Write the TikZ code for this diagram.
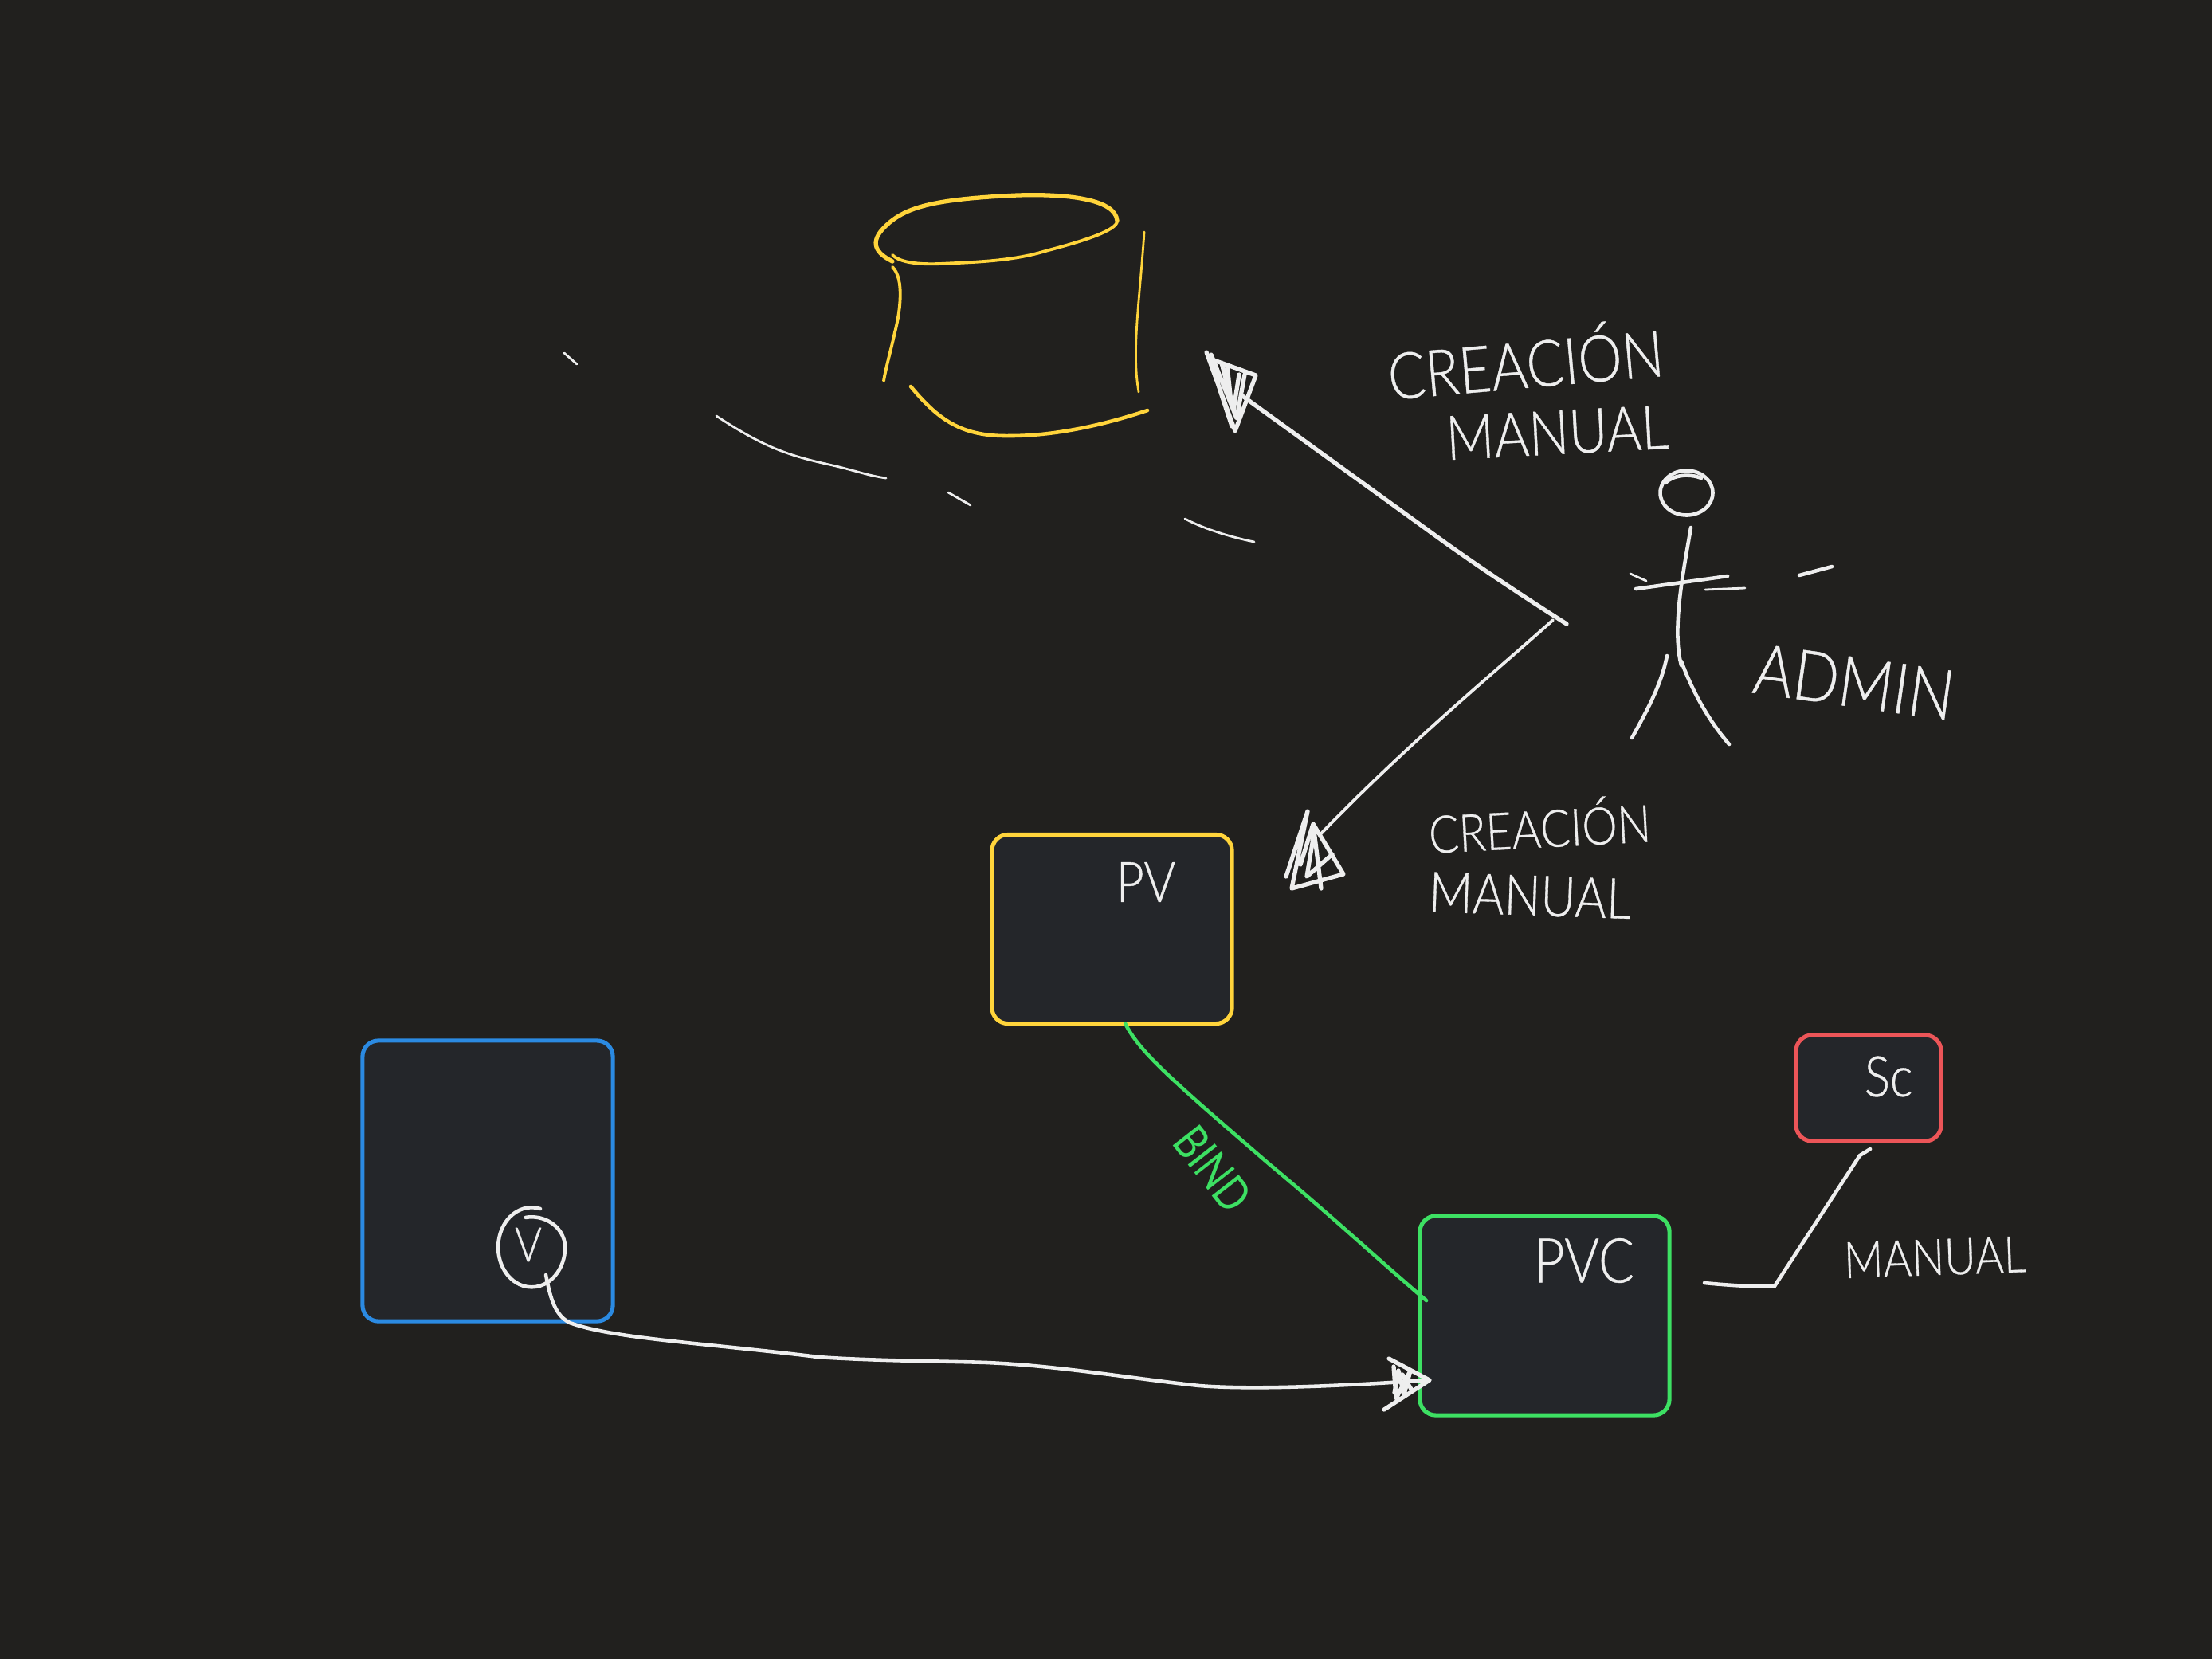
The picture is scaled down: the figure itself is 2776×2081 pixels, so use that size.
\documentclass[tikz,border=0pt]{standalone}
\usepackage{fontspec}
\usepackage{tikz}
\usetikzlibrary{positioning}
\newfontfamily\handfont[FakeStretch=0.86,FakeBold=0.5]{Lato Light}
\newfontfamily\bindfont[FakeStretch=0.8]{Lato}
\definecolor{boardbg}{HTML}{21201E}
\definecolor{boxbg}{HTML}{24262A}
\definecolor{ink}{HTML}{EEEEEE}
\definecolor{pvyellow}{HTML}{FFD43B}
\definecolor{pvcgreen}{HTML}{3DE063}
\definecolor{scred}{HTML}{EC5558}
\definecolor{podblue}{HTML}{2B8AE2}

\begin{document}
\begin{tikzpicture}[x=0.01cm,y=-0.01cm,line cap=round,line join=round,
                    box/.style={draw,fill=boxbg,rounded corners=0.2cm,line width=1.45pt,inner sep=0pt,outer sep=0pt},
                    hand/.style={text=ink,inner sep=0pt,font=\handfont\fontsize{#1}{#1}\selectfont},
                    sketch/.style={draw=ink,line width=1.3pt},
                    fine/.style={draw=ink,line width=0.8pt},
                    tipmark/.style={draw=ink,line width=1.5pt},
                    yellowpen/.style={draw=pvyellow,line width=1.1pt}]
  \useasboundingbox (0,0) rectangle (2776,2081);
  \fill[boardbg] (-8,-8) rectangle (2784,2089);

  \node[box,draw=podblue,minimum width=3.14cm,minimum height=3.52cm]  (pod) at (612,1482) {};
  \node[box,draw=pvyellow,minimum width=3.01cm,minimum height=2.37cm] (pv)  at (1395.5,1166) {};
  \node[box,draw=pvcgreen,minimum width=3.13cm,minimum height=2.50cm] (pvc) at (1938.5,1651) {};
  \node[box,draw=scred,minimum width=1.82cm,minimum height=1.33cm]    (sc)  at (2345,1365.5) {};

  \node[hand=17] (volname)  at (663,1562) {V};
  \node[hand=20] (pvname)   at (1438,1107) {PV};
  \node[hand=22] (pvcname)  at (1988,1582) {PVC};
  \node[hand=20] (scname)   at (2370,1351) {Sc};
  \node[hand=23,rotate=5]    (create1) at (1914,450) {CREACIÓN};
  \node[hand=22,rotate=3]    (manual1) at (1954,543) {MANUAL};
  \node[hand=18.5,rotate=3]  (create2) at (1932,1034) {CREACIÓN};
  \node[hand=20,rotate=-2]   (manual2) at (1920,1124) {MANUAL};
  \node[hand=25,rotate=-8]   (admin)   at (2327,856) {ADMIN};
  \node[hand=18,rotate=2]    (manual3) at (2428,1578) {MANUAL};
  \node[font=\bindfont\fontsize{17}{17}\selectfont,text=pvcgreen,inner sep=0pt,rotate=-52] (bind) at (1522,1467) {BIND};

  \coordinate (volout)  at (685,1600);
  \coordinate (pvcin)   at (1794,1732);
  \coordinate (bindend) at (1790,1632);
  \coordinate (fork)    at (1966,783);
  \coordinate (forkb)   at (1949,778);
  \coordinate (cyltip)  at (1558,496);
  \coordinate (pvtip)   at (1658,1046);
  \coordinate (knee)    at (2227,1614);
  \coordinate (manualstart) at (2139,1610);
  \coordinate (scend)   at (2347,1442);

  % cylinder
  \draw[yellowpen,line width=1.5pt] (1120,328) .. controls (1100,318) and (1090,305) .. (1110,285) .. controls (1135,260) and (1170,250) .. (1277,245) .. controls (1340,243) and (1400,250) .. (1402,277);
  \draw[yellowpen] (1402,277) .. controls (1403,290) and (1350,305) .. (1312,315) .. controls (1270,328) and (1220,329) .. (1180,331) .. controls (1155,332) and (1130,330) .. (1120,320);
  \draw[yellowpen] (1120,335) .. controls (1135,350) and (1130,390) .. (1123,417) .. controls (1118,440) and (1112,460) .. (1109,478);
  \draw[yellowpen,line width=0.8pt] (1436,291) .. controls (1430,380) and (1420,440) .. (1429,492);
  \draw[yellowpen,line width=1.3pt] (1143,485) .. controls (1180,530) and (1210,548) .. (1268,547) .. controls (1320,547) and (1380,535) .. (1440,515);

  % stray strokes
  \draw[fine] (708,443) -- (724,457);
  \draw[fine] (899,522) .. controls (960,562) and (990,572) .. (1045,584) .. controls (1075,591) and (1090,597) .. (1112,600);
  \draw[fine] (1190,618) -- (1218,634);
  \draw[fine] (1487,651) .. controls (1510,663) and (1540,673) .. (1574,680);

  % admin
  \draw[sketch] (2116.5,618.5) ellipse [x radius=33,y radius=28];
  \draw[sketch] (2090,606) .. controls (2100,596) and (2120,594) .. (2135,600);
  \draw[sketch] (2122,662) .. controls (2112,720) and (2098,790) .. (2110,835);
  \draw[sketch] (2110,830) .. controls (2125,870) and (2145,905) .. (2170,934);
  \draw[sketch] (2092,823) .. controls (2085,860) and (2065,895) .. (2048,926);
  \draw[sketch] (2053,739) -- (2168,723);
  \draw[fine] (2046,720) -- (2066,729);
  \draw[fine] (2140,740) -- (2190,738);
  \draw[sketch] (2258,722) -- (2299,711);

  % connectors
  \draw[sketch,line width=1.5pt] (fork) .. controls (1930,760) and (1880,728) .. (1815,682) -- (cyltip);
  \draw[sketch,line width=1.1pt] (forkb) .. controls (1880,840) and (1770,930) .. (pvtip);
  \draw[sketch] (volout) .. controls (690,1625) and (695,1650) .. (715,1660) .. controls (770,1680) and (880,1685) .. (1027,1703) .. controls (1100,1708) and (1180,1708) .. (1239,1710) .. controls (1330,1714) and (1420,1730) .. (1505,1739) .. controls (1580,1745) and (1700,1738) .. (pvcin);
  \draw[sketch,draw=pvcgreen] (pv.-82) .. controls (1430,1320) and (1470,1355) .. (1593,1461) .. controls (1670,1525) and (1740,1590) .. (bindend);
  \draw[sketch] (manualstart) .. controls (2170,1613) and (2200,1615) .. (knee);
  \draw[sketch] (knee) -- (2334,1450) -- (scend);

  % hand drawn tips
  \draw[tipmark] (1514,442) -- (1550,541) -- (1576,471) -- (1518,450) -- (1546,535) (1520,445) -- (1552,525) -- (1562,470) (1533,455) -- (1548,515) -- (1555,470) (1540,458) -- (1545,505);
  \draw[tipmark] (1641,1018) -- (1614,1100) (1641,1018) -- (1621,1115) -- (1686,1097) -- (1648,1034) (1658,1115) -- (1648,1034) -- (1632,1085) (1650,1040) -- (1640,1100) -- (1672,1072);
  \draw[tipmark] (1743,1705) -- (pvcin) -- (1737,1769) (1749,1715) -- (1752,1755) -- (1770,1720) -- (1762,1750) -- (1755,1720) -- (1750,1748) (1760,1725) -- (1772,1745);

  % volume circle
  \draw[sketch] (678,1517) arc [start angle=-75,end angle=-360,x radius=42,y radius=50] arc [start angle=0,end angle=-100,x radius=42,y radius=38];
\end{tikzpicture}
\end{document}
